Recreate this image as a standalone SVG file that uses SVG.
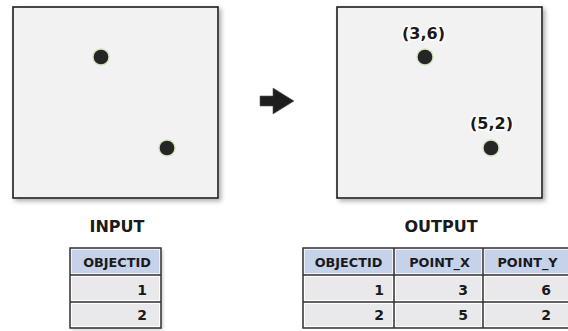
<svg xmlns="http://www.w3.org/2000/svg" width="568" height="331" viewBox="0 0 568 331">
  <defs>
    <filter id="shadow" x="-10%" y="-10%" width="130%" height="130%">
      <feDropShadow dx="2.5" dy="2.5" stdDeviation="2" flood-color="#7a7a7a" flood-opacity="0.6"/>
    </filter>
    <filter id="tshadow" x="-10%" y="-10%" width="130%" height="130%">
      <feDropShadow dx="2" dy="2" stdDeviation="1.5" flood-color="#9a9a9a" flood-opacity="0.5"/>
    </filter>
  </defs>
  <style>
    .panel { fill: #f2f2f2; stroke: #1c1c1c; stroke-width: 1.6; }
    .dot { fill: #252525; stroke: #cfe3b8; stroke-width: 1.3; }
    .coord { font-family: "DejaVu Sans", "Liberation Sans", sans-serif; font-weight: bold; font-size: 16px; fill: #1a1a1a; text-anchor: middle; stroke: #ffffff; stroke-width: 3; paint-order: stroke; stroke-linejoin: round; }
    .title { font-family: "DejaVu Sans", "Liberation Sans", sans-serif; font-weight: bold; font-size: 16px; fill: #1a1a1a; text-anchor: middle; }
    .hdr { fill: #c6d1ea; stroke: #eef1f8; stroke-width: 1; }
    .row { fill: #e9e9eb; stroke: #ffffff; stroke-width: 1; }
    .grid { fill: none; stroke: #333333; stroke-width: 1.5; }
    .th { font-family: "DejaVu Sans", "Liberation Sans", sans-serif; font-weight: bold; font-size: 12.8px; fill: #1a1a1a; text-anchor: middle; }
    .td { font-family: "DejaVu Sans", "Liberation Sans", sans-serif; font-weight: bold; font-size: 14px; fill: #1a1a1a; text-anchor: end; }
    .arrow { fill: #1e1e1e; stroke: #555555; stroke-width: 0.6; }
  </style>

  <g id="input-panel">
    <rect class="panel" x="13" y="7" width="205" height="191" filter="url(#shadow)"/>
    <circle class="dot" cx="101" cy="57" r="8"/>
    <circle class="dot" cx="167" cy="148" r="8"/>
    <text class="title" x="117" y="232">INPUT</text>
  </g>

  <g id="output-panel">
    <rect class="panel" x="337" y="7" width="205" height="191" filter="url(#shadow)"/>
    <circle class="dot" cx="425" cy="57" r="8"/>
    <circle class="dot" cx="491" cy="148" r="8"/>
    <text class="coord" x="423.5" y="39">(3,6)</text>
    <text class="coord" x="491.5" y="129">(5,2)</text>
    <text class="title" x="441" y="232">OUTPUT</text>
  </g>

  <g id="input-table">
    <g filter="url(#tshadow)">
      <rect x="70" y="248" width="91" height="80" fill="#e9e9eb"/>
    </g>
    <rect class="hdr" x="71.5" y="249.5" width="88" height="24"/>
    <rect class="row" x="71.5" y="276.5" width="88" height="24"/>
    <rect class="row" x="71.5" y="303.5" width="88" height="23"/>
    <rect class="grid" x="70" y="248" width="91" height="80"/>
    <line class="grid" x1="70" y1="275" x2="161" y2="275"/>
    <line class="grid" x1="70" y1="302" x2="161" y2="302"/>
    <text class="th" x="117" y="267">OBJECTID</text>
    <text class="td" x="147" y="295">1</text>
    <text class="td" x="147" y="320">2</text>
  </g>

  <g id="output-table">
    <rect x="303" y="248" width="270" height="80" fill="#e9e9eb"/>
    <rect class="hdr" x="304.5" y="249.5" width="88" height="24"/>
    <rect class="hdr" x="395.5" y="249.5" width="86" height="24"/>
    <rect class="hdr" x="484.5" y="249.5" width="88" height="24"/>
    <rect class="row" x="304.5" y="276.5" width="88" height="24"/>
    <rect class="row" x="395.5" y="276.5" width="86" height="24"/>
    <rect class="row" x="484.5" y="276.5" width="88" height="24"/>
    <rect class="row" x="304.5" y="303.5" width="88" height="23"/>
    <rect class="row" x="395.5" y="303.5" width="86" height="23"/>
    <rect class="row" x="484.5" y="303.5" width="88" height="23"/>
    <rect class="grid" x="303" y="248" width="270" height="80"/>
    <line class="grid" x1="303" y1="275" x2="573" y2="275"/>
    <line class="grid" x1="303" y1="302" x2="573" y2="302"/>
    <line class="grid" x1="394" y1="248" x2="394" y2="328"/>
    <line class="grid" x1="483" y1="248" x2="483" y2="328"/>
    <text class="th" x="348.5" y="267">OBJECTID</text>
    <text class="th" x="439.5" y="267">POINT_X</text>
    <text class="th" x="527.5" y="267">POINT_Y</text>
    <text class="td" x="384" y="295">1</text>
    <text class="td" x="468" y="295">3</text>
    <text class="td" x="551" y="295">6</text>
    <text class="td" x="384" y="320">2</text>
    <text class="td" x="468" y="320">5</text>
    <text class="td" x="551" y="320">2</text>
  </g>

  <g id="connectors">
    <polygon class="arrow" points="260,96 273,96 273,88 294,101 273,114 273,106 260,106"/>
  </g>
</svg>
